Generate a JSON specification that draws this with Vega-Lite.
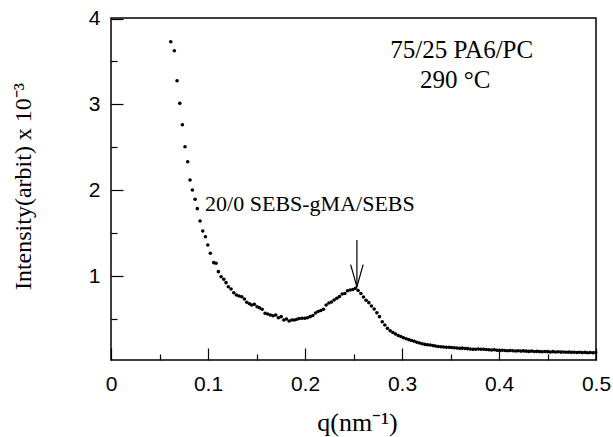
{
  "$schema": "https://vega.github.io/schema/vega-lite/v6.json",
  "width": 485,
  "height": 342,
  "autosize": {"type": "none"},
  "padding": {"left": 111, "top": 18, "right": 17, "bottom": 77},
  "background": "white",
  "config": {
    "view": {"stroke": "black", "strokeWidth": 1.5},
    "axis": {"domain": false, "grid": false, "tickColor": "black", "tickWidth": 1.2, "labelColor": "black", "titleColor": "black"}
  },
  "layer": [
    {
      "data": {"values": [
        {"q": 0.0616, "I": 3.730}, {"q": 0.0653, "I": 3.625}, {"q": 0.0681, "I": 3.275}, {"q": 0.0709, "I": 3.012},
        {"q": 0.0736, "I": 2.763}, {"q": 0.0763, "I": 2.507}, {"q": 0.0791, "I": 2.332}, {"q": 0.0815, "I": 2.119},
        {"q": 0.0839, "I": 2.002}, {"q": 0.0867, "I": 1.894}, {"q": 0.0890, "I": 1.785}, {"q": 0.0918, "I": 1.641},
        {"q": 0.0946, "I": 1.525}, {"q": 0.0973, "I": 1.458}, {"q": 0.0998, "I": 1.362}, {"q": 0.1024, "I": 1.265},
        {"q": 0.1059, "I": 1.156}, {"q": 0.1083, "I": 1.149}, {"q": 0.1107, "I": 1.051}, {"q": 0.1135, "I": 0.992},
        {"q": 0.1163, "I": 0.962}, {"q": 0.1186, "I": 0.923}, {"q": 0.1210, "I": 0.876}, {"q": 0.1238, "I": 0.849},
        {"q": 0.1266, "I": 0.806}, {"q": 0.1293, "I": 0.779}, {"q": 0.1320, "I": 0.768}, {"q": 0.1348, "I": 0.759},
        {"q": 0.1375, "I": 0.733}, {"q": 0.1400, "I": 0.694}, {"q": 0.1427, "I": 0.678}, {"q": 0.1451, "I": 0.663},
        {"q": 0.1478, "I": 0.671}, {"q": 0.1506, "I": 0.643}, {"q": 0.1530, "I": 0.631}, {"q": 0.1558, "I": 0.613},
        {"q": 0.1589, "I": 0.566}, {"q": 0.1616, "I": 0.558}, {"q": 0.1643, "I": 0.546}, {"q": 0.1671, "I": 0.538},
        {"q": 0.1699, "I": 0.546}, {"q": 0.1726, "I": 0.515}, {"q": 0.1754, "I": 0.527}, {"q": 0.1782, "I": 0.488},
        {"q": 0.1808, "I": 0.500}, {"q": 0.1836, "I": 0.476}, {"q": 0.1864, "I": 0.488}, {"q": 0.1891, "I": 0.488},
        {"q": 0.1916, "I": 0.496}, {"q": 0.1942, "I": 0.506}, {"q": 0.1970, "I": 0.508}, {"q": 0.1998, "I": 0.508},
        {"q": 0.2025, "I": 0.515}, {"q": 0.2053, "I": 0.527}, {"q": 0.2081, "I": 0.540}, {"q": 0.2108, "I": 0.570},
        {"q": 0.2135, "I": 0.587}, {"q": 0.2163, "I": 0.599}, {"q": 0.2190, "I": 0.613}, {"q": 0.2218, "I": 0.663},
        {"q": 0.2246, "I": 0.686}, {"q": 0.2273, "I": 0.698}, {"q": 0.2300, "I": 0.721}, {"q": 0.2328, "I": 0.741},
        {"q": 0.2355, "I": 0.762}, {"q": 0.2383, "I": 0.791}, {"q": 0.2411, "I": 0.797}, {"q": 0.2438, "I": 0.829},
        {"q": 0.2465, "I": 0.838}, {"q": 0.2493, "I": 0.843}, {"q": 0.2520, "I": 0.857}, {"q": 0.2548, "I": 0.832},
        {"q": 0.2576, "I": 0.797}, {"q": 0.2603, "I": 0.756}, {"q": 0.2630, "I": 0.718}, {"q": 0.2658, "I": 0.690},
        {"q": 0.2685, "I": 0.651}, {"q": 0.2713, "I": 0.616}, {"q": 0.2741, "I": 0.573}, {"q": 0.2768, "I": 0.527},
        {"q": 0.2796, "I": 0.468}, {"q": 0.2823, "I": 0.430}, {"q": 0.2850, "I": 0.391}, {"q": 0.2878, "I": 0.363},
        {"q": 0.2906, "I": 0.342}, {"q": 0.2933, "I": 0.325}, {"q": 0.2961, "I": 0.308}, {"q": 0.2988, "I": 0.296},
        {"q": 0.3015, "I": 0.282}, {"q": 0.3043, "I": 0.269}, {"q": 0.3071, "I": 0.259}, {"q": 0.3098, "I": 0.249},
        {"q": 0.3126, "I": 0.240}, {"q": 0.3153, "I": 0.228}, {"q": 0.3180, "I": 0.220}, {"q": 0.3208, "I": 0.211},
        {"q": 0.3236, "I": 0.204}, {"q": 0.3263, "I": 0.199}, {"q": 0.3291, "I": 0.197}, {"q": 0.3319, "I": 0.190},
        {"q": 0.3345, "I": 0.185}, {"q": 0.3373, "I": 0.179}, {"q": 0.3401, "I": 0.176}, {"q": 0.3428, "I": 0.174},
        {"q": 0.3456, "I": 0.170}, {"q": 0.3484, "I": 0.171}, {"q": 0.3510, "I": 0.168}, {"q": 0.3538, "I": 0.164},
        {"q": 0.3566, "I": 0.162}, {"q": 0.3593, "I": 0.158}, {"q": 0.3621, "I": 0.160}, {"q": 0.3649, "I": 0.156},
        {"q": 0.3676, "I": 0.154}, {"q": 0.3703, "I": 0.150}, {"q": 0.3731, "I": 0.147}, {"q": 0.3758, "I": 0.148},
        {"q": 0.3786, "I": 0.150}, {"q": 0.3814, "I": 0.147}, {"q": 0.3841, "I": 0.148}, {"q": 0.3868, "I": 0.144},
        {"q": 0.3896, "I": 0.142}, {"q": 0.3923, "I": 0.139}, {"q": 0.3951, "I": 0.141}, {"q": 0.3979, "I": 0.136},
        {"q": 0.4006, "I": 0.133}, {"q": 0.4033, "I": 0.135}, {"q": 0.4061, "I": 0.132}, {"q": 0.4088, "I": 0.129},
        {"q": 0.4116, "I": 0.133}, {"q": 0.4144, "I": 0.130}, {"q": 0.4171, "I": 0.127}, {"q": 0.4198, "I": 0.129},
        {"q": 0.4226, "I": 0.126}, {"q": 0.4253, "I": 0.128}, {"q": 0.4281, "I": 0.125}, {"q": 0.4309, "I": 0.122},
        {"q": 0.4336, "I": 0.126}, {"q": 0.4364, "I": 0.121}, {"q": 0.4391, "I": 0.123}, {"q": 0.4418, "I": 0.120},
        {"q": 0.4446, "I": 0.118}, {"q": 0.4474, "I": 0.121}, {"q": 0.4501, "I": 0.119}, {"q": 0.4529, "I": 0.116},
        {"q": 0.4556, "I": 0.119}, {"q": 0.4583, "I": 0.115}, {"q": 0.4611, "I": 0.118}, {"q": 0.4639, "I": 0.114},
        {"q": 0.4666, "I": 0.115}, {"q": 0.4694, "I": 0.112}, {"q": 0.4721, "I": 0.114}, {"q": 0.4748, "I": 0.111},
        {"q": 0.4776, "I": 0.113}, {"q": 0.4804, "I": 0.109}, {"q": 0.4831, "I": 0.112}, {"q": 0.4859, "I": 0.108},
        {"q": 0.4887, "I": 0.111}, {"q": 0.4913, "I": 0.107}, {"q": 0.4941, "I": 0.109}, {"q": 0.4969, "I": 0.106},
        {"q": 0.4996, "I": 0.108}
      ]},
      "mark": {"type": "point", "filled": true, "color": "black", "size": 13, "opacity": 1},
      "encoding": {
        "x": {
          "field": "q", "type": "quantitative",
          "scale": {"domain": [0, 0.5], "nice": false, "zero": false},
          "axis": {
            "values": [0, 0.05, 0.1, 0.15, 0.2, 0.25, 0.3, 0.35, 0.4, 0.45, 0.5],
            "labelExpr": "round(datum.value * 100) % 10 == 0 ? format(datum.value, '.1~f') : ''",
            "tickSize": {"condition": {"test": "round(datum.value * 100) % 10 == 0", "value": -12}, "value": -6},
            "labelPadding": 25,
            "labelFont": "Liberation Sans", "labelFontSize": 21, "labelFlush": false, "labelOverlap": false,
            "title": "q(nm⁻¹)",
            "titleFont": "Liberation Serif", "titleFontSize": 26, "titleFontWeight": "normal",
            "titleX": 246, "titleY": 70, "titleAlign": "center", "titleBaseline": "alphabetic"
          }
        },
        "y": {
          "field": "I", "type": "quantitative",
          "scale": {"domain": [0.022, 4.006], "nice": false, "zero": false},
          "axis": {
            "values": [0.5, 1, 1.5, 2, 2.5, 3, 3.5, 4],
            "labelExpr": "datum.value % 1 == 0 ? format(datum.value, 'd') : ''",
            "tickSize": {"condition": {"test": "datum.value % 1 == 0", "value": -12}, "value": -6},
            "labelPadding": 23,
            "labelFont": "Liberation Sans", "labelFontSize": 21, "labelFlush": false, "labelOverlap": false,
            "title": "Intensity(arbit) x 10⁻³",
            "titleFont": "Liberation Serif", "titleFontSize": 24, "titleFontWeight": "normal",
            "titleX": -88, "titleY": 168, "titleAngle": -90, "titleAlign": "center", "titleBaseline": "middle"
          }
        }
      }
    },
    {
      "data": {"values": [{}]},
      "mark": {"type": "rule", "color": "black", "strokeWidth": 1.2},
      "encoding": {"x": {"datum": 0.2535, "type": "quantitative"}, "y": {"datum": 1.42, "type": "quantitative"}, "y2": {"datum": 0.876}}
    },
    {
      "data": {"values": [{}]},
      "mark": {"type": "point", "shape": "M-0.57,-1L0,1L0.57,-1", "filled": false, "stroke": "black", "strokeWidth": 1.2, "size": 484, "opacity": 1},
      "encoding": {"x": {"datum": 0.2535, "type": "quantitative"}, "y": {"datum": 1.004, "type": "quantitative"}}
    },
    {
      "data": {"values": [{}]},
      "mark": {"type": "text", "text": "75/25 PA6/PC", "font": "Liberation Serif", "fontSize": 25, "align": "center", "baseline": "alphabetic", "fill": "black"},
      "encoding": {"x": {"datum": 0.3616, "type": "quantitative"}, "y": {"datum": 3.543, "type": "quantitative"}}
    },
    {
      "data": {"values": [{}]},
      "mark": {"type": "text", "text": "290 °C", "font": "Liberation Serif", "fontSize": 25, "align": "center", "baseline": "alphabetic", "fill": "black"},
      "encoding": {"x": {"datum": 0.3549, "type": "quantitative"}, "y": {"datum": 3.187, "type": "quantitative"}}
    },
    {
      "data": {"values": [{}]},
      "mark": {"type": "text", "text": "20/0 SEBS-gMA/SEBS", "font": "Liberation Serif", "fontSize": 22, "align": "left", "baseline": "alphabetic", "fill": "black"},
      "encoding": {"x": {"datum": 0.097, "type": "quantitative"}, "y": {"datum": 1.758, "type": "quantitative"}}
    }
  ]
}
